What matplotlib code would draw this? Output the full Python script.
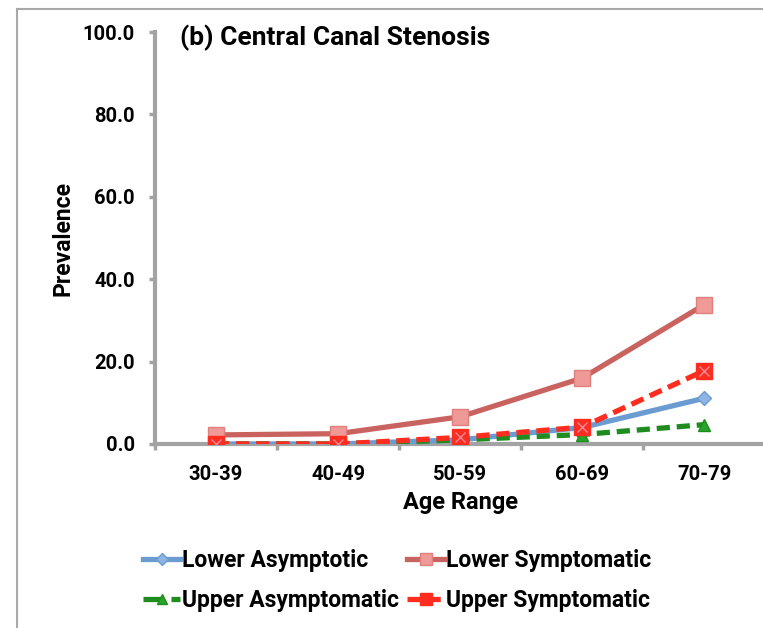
import numpy as np
import matplotlib
matplotlib.use("Agg")
import matplotlib.pyplot as plt
from matplotlib.lines import Line2D

plt.rcParams['font.family'] = ['Roboto', 'Liberation Sans', 'DejaVu Sans']
plt.rcParams['font.weight'] = 'bold'

# data
age_ranges = ['30-39', '40-49', '50-59', '60-69', '70-79']
lower_asym = [0.0, 0.0, 1.0, 4.0, 11.1]
lower_sym = [2.2, 2.5, 6.6, 16.0, 33.8]
upper_asym = [0.0, 0.0, 1.0, 2.3, 4.7]
upper_sym = [0.0, 0.0, 1.6, 4.1, 17.8]
y_ticks = [0, 20, 40, 60, 80, 100]

fig = plt.figure(figsize=(7.63, 6.28), dpi=100)
ax = fig.add_axes([0.203, 0.293, 0.80, 0.656])

x = np.arange(len(age_ranges))
axis_grey = '#a3a3a3'
dash = (0, (2.5, 1.3))

# Lower Asymptotic (blue, diamond)
h_la, = ax.plot(x, lower_asym, color='#6a9bd1', lw=3.8, marker='D', ms=7.5,
                mfc='#8db4e2', mec='#6a9bd1', mew=1, label='Lower Asymptotic', zorder=3)
# Lower Symptomatic (dark salmon line, light square)
h_ls, = ax.plot(x, lower_sym, color='#c9635f', lw=3.8, marker='s', ms=11,
                mfc='#f09a98', mec='#e07f7c', mew=1, label='Lower Symptomatic', zorder=4)
# Upper Asymptomatic (green dashed, triangle)
h_ua, = ax.plot(x, upper_asym, color='#1f8c1f', lw=3.8, ls=dash, marker='^', ms=9,
                mfc='#29a329', mec='#1f8c1f', mew=1, label='Upper Asymptomatic', zorder=5)
# Upper Symptomatic (red dashed, square with x)
ax.plot(x, upper_sym, color='#ff2d1f', lw=3.8, ls=dash, marker='s', ms=11,
        mfc='#ff2d1f', mec='#ff2d1f', mew=1, zorder=6)
ax.plot(x, upper_sym, ls='none', marker='x', ms=7.5, mec='#e88a9a', mew=1, zorder=7)

# smaller copies for the legend
def leg_handle(h, ms):
    return Line2D([], [], color=h.get_color(), lw=3.8, ls=h.get_linestyle(),
                  marker=h.get_marker(), ms=ms, mfc=h.get_mfc(), mec=h.get_mec())

l_la = leg_handle(h_la, 6)
l_ls = leg_handle(h_ls, 8)
l_ua = leg_handle(h_ua, 7)
l_us = Line2D([], [], color='#ff2d1f', lw=3.8, ls=dash, marker='s', ms=8,
              mfc='#ff2d1f', mec='#ff2d1f')

ax.set_xlim(-0.5, len(age_ranges) - 0.5)
ax.set_ylim(0, 100)
ax.set_yticks(y_ticks)
ax.set_yticklabels([f'{v:.1f}' for v in y_ticks])
ax.set_xticks(x)
ax.set_xticklabels(age_ranges)
ax.set_xticks(np.arange(-0.5, len(age_ranges)), minor=True)
ax.tick_params(axis='x', which='major', length=0, pad=15, labelsize=14.5)
ax.tick_params(axis='x', which='minor', length=4.5, width=2.5, color=axis_grey, direction='out')
ax.tick_params(axis='y', length=4.5, width=2.5, color=axis_grey, direction='out', pad=10, labelsize=14.5)

for side in ['top', 'right']:
    ax.spines[side].set_visible(False)
for side in ['left', 'bottom']:
    ax.spines[side].set_color(axis_grey)
    ax.spines[side].set_linewidth(3)

ax.set_xlabel('Age Range', fontsize=17, fontweight='bold', labelpad=5)
ax.set_ylabel('Prevalence', fontsize=16.5, fontweight='bold', labelpad=6)
ax.text(0.041, 0.985, '(b) Central Canal Stenosis', transform=ax.transAxes,
        fontsize=19, fontweight='bold', va='center', ha='left')

# legend fills column-wise, so order gives rows: LA LS / UA US
fig.legend([l_la, l_ua, l_ls, l_us],
           ['Lower Asymptotic', 'Upper Asymptomatic', 'Lower Symptomatic', 'Upper Symptomatic'],
           loc='center', bbox_to_anchor=(0.521, 0.076), ncol=2,
           frameon=False, fontsize=16.5, handlelength=1.6, handletextpad=0.1,
           columnspacing=0.35, labelspacing=0.75)

# outer chart frame (only top and left visible in the crop)
fig.add_artist(Line2D([0.022, 1.0], [0.986, 0.986], color='#a8a8a8', lw=1.5))
fig.add_artist(Line2D([0.022, 0.022], [0.0, 0.986], color='#a8a8a8', lw=1.5))

fig.savefig('out.png', dpi=100)
